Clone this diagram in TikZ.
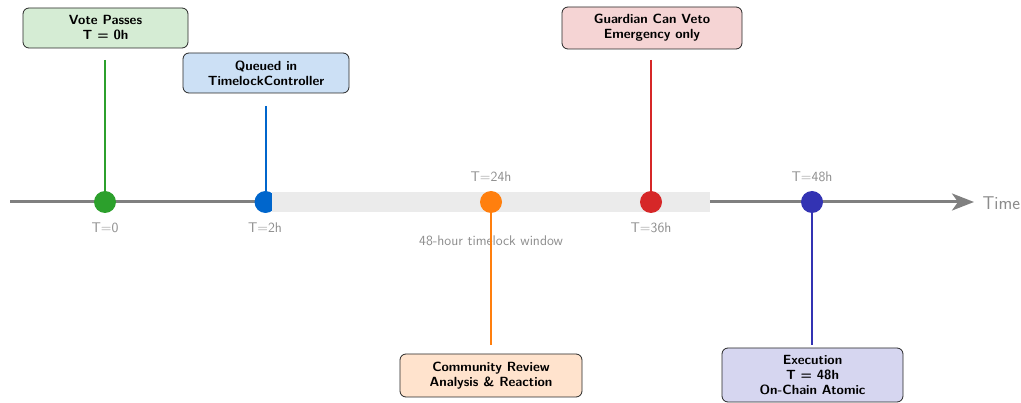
\documentclass[tikz,border=0pt]{standalone}
\usetikzlibrary{arrows.meta}
\definecolor{cgreen}{HTML}{2CA02C}
\definecolor{cblue}{HTML}{0066CC}
\definecolor{corange}{HTML}{FF7F0E}
\definecolor{cred}{HTML}{D62728}
\definecolor{cnavy}{HTML}{3333B3}
\definecolor{fgreen}{HTML}{D5ECD4}
\definecolor{fblue}{HTML}{CCE0F5}
\definecolor{forange}{HTML}{FFE3CD}
\definecolor{fred}{HTML}{F5D4D4}
\definecolor{fnavy}{HTML}{D6D6F0}
\definecolor{axisgray}{HTML}{808080}
\definecolor{bandgray}{HTML}{EBEBEB}
\definecolor{labgray}{HTML}{8C8C8C}
\tikzset{
  event/.style={rounded corners=6pt, draw=black!85, line width=0.8pt, align=center,
    font=\fontsize{13.3}{15}\selectfont\sffamily\bfseries, inner sep=0pt},
  dot/.style={circle, inner sep=0pt, minimum size=22pt},
  stem/.style={line width=2pt},
  tick/.style={text=labgray, font=\fontsize{14}{16}\selectfont\sffamily}
}
\begin{document}
\begin{tikzpicture}[x=1pt,y=-1pt]
\useasboundingbox (0,0) rectangle (1021,403);

% time axis
\coordinate (a0) at (10,202);
\coordinate (a1) at (974,202);
\draw[axisgray, line width=3pt, -{Stealth[length=22pt,width=17pt,inset=6pt]}] (a0) -- (a1);
\node[anchor=west, text=labgray, font=\fontsize{18.5}{20}\selectfont\sffamily] (time) at (979,203) {Time};

% early events
\node[dot, fill=cgreen] (d0) at (105,202) {};
\node[dot, fill=cblue] (d2) at (265.5,202) {};

% timelock window band
\fill[bandgray] (272,192) rectangle (710,212);
\node[tick] (win) at (491,241) {48-hour timelock window};

% later events
\node[dot, fill=corange] (d24) at (491,202) {};
\node[dot, fill=cred] (d36) at (651,202) {};
\node[dot, fill=cnavy] (d48) at (812,202) {};

% tick labels
\node[tick] (l0) at (105,228) {T=0};
\node[tick] (l2) at (265,228) {T=2h};
\node[tick] (l24) at (491,177) {T=24h};
\node[tick] (l36) at (651,228) {T=36h};
\node[tick] (l48) at (812,177) {T=48h};

% event boxes
\node[event, fill=fgreen, minimum width=165pt, minimum height=40pt] (b0) at (105.5,28) {Vote Passes\\T = 0h};
\node[event, fill=fblue, minimum width=166pt, minimum height=40pt] (b2) at (266,73) {Queued in\\TimelockController};
\node[event, fill=fred, minimum width=180pt, minimum height=42pt] (b36) at (652,28) {Guardian Can Veto\\Emergency only};
\node[event, fill=forange, minimum width=182pt, minimum height=43pt] (b24) at (491,375.5) {Community Review\\Analysis \& Reaction};
\node[event, fill=fnavy, minimum width=181pt, minimum height=54pt] (b48) at (812.5,375) {Execution\\T = 48h\\On-Chain Atomic};

% stems
\coordinate (s0) at (105,60);
\coordinate (s2) at (265.5,106);
\coordinate (s36) at (651,60);
\coordinate (s24) at (491,345);
\coordinate (s48) at (812,345);
\draw[stem, cgreen] (s0) -- (d0);
\draw[stem, cblue] (s2) -- (d2);
\draw[stem, cred] (s36) -- (d36);
\draw[stem, corange] (d24) -- (s24);
\draw[stem, cnavy] (d48) -- (s48);
\end{tikzpicture}
\end{document}
